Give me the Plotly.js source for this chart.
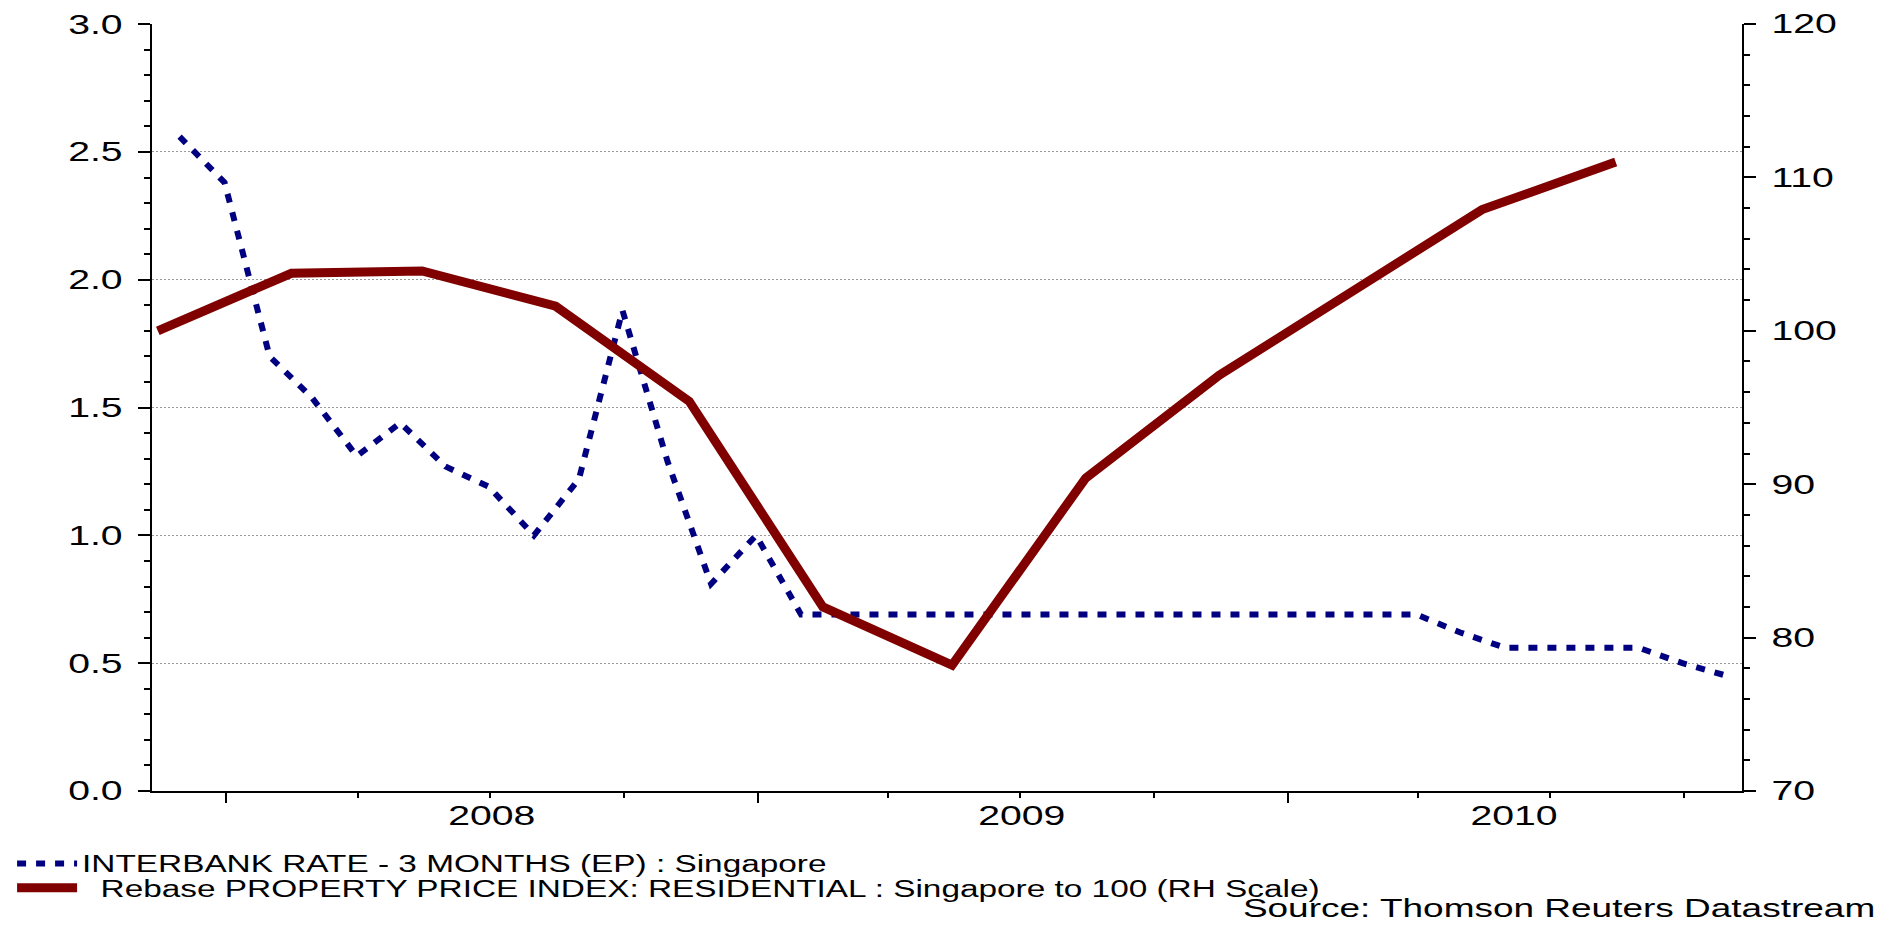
<!DOCTYPE html>
<html>
<head>
<meta charset="utf-8">
<script src="https://cdn.plot.ly/plotly-3.0.1.min.js"></script>
<style>html,body{margin:0;padding:0;background:#fff;}</style>
</head>
<body>
<div id="chart" style="width:1900px;height:925px;"></div>
<script>
// ---- Data ----
const ibDates = [
  '2007-11-30','2007-12-31',
  '2008-01-31','2008-02-29','2008-03-31','2008-04-30','2008-05-31','2008-06-30',
  '2008-07-31','2008-08-31','2008-09-30','2008-10-31','2008-11-30','2008-12-31',
  '2009-01-31','2009-02-28','2009-03-31','2009-04-30','2009-05-31','2009-06-30',
  '2009-07-31','2009-08-31','2009-09-30','2009-10-31','2009-11-30','2009-12-31',
  '2010-01-31','2010-02-28','2010-03-31','2010-04-30','2010-05-31','2010-06-30',
  '2010-07-31','2010-08-31','2010-09-30','2010-10-31'
];
const ibRate = [
  2.56, 2.38,
  1.70, 1.54, 1.31, 1.44, 1.27, 1.19,
  1.00, 1.22, 1.88, 1.29, 0.81, 1.00,
  0.69, 0.69, 0.69, 0.69, 0.69, 0.69,
  0.69, 0.69, 0.69, 0.69, 0.69, 0.69,
  0.69, 0.69, 0.69, 0.62, 0.56, 0.56,
  0.56, 0.56, 0.50, 0.45
];
const propDates = [
  '2007-11-15','2008-02-15','2008-05-15','2008-08-15','2008-11-15','2009-02-15',
  '2009-05-15','2009-08-15','2009-11-15','2010-02-15','2010-05-15','2010-08-15'
];
const propIndex = [100.0, 103.75, 103.9, 101.6, 95.4, 82.0, 78.2, 90.4, 97.1, 102.6, 107.9, 111.0];

const yearLabels = ['2008', '2009', '2010'];
const ibName = 'INTERBANK RATE - 3 MONTHS (EP) : Singapore';
const propName = '\u00a0\u00a0Rebase PROPERTY PRICE INDEX: RESIDENTIAL : Singapore to 100 (RH Scale)';
const sourceText = 'Source: Thomson Reuters Datastream';
const xRange = ['2007-11-11', '2010-11-10'];

// ---- Styles ----
const FONT = 'Liberation Sans, Arial, sans-serif';
const STRETCH = 1.45;

// each year label sits in the middle of the visible part of its year
function yearMid(y) {
  const s = Math.max(Date.parse(y + '-01-01'), Date.parse(xRange[0]));
  const e = Math.min(Date.parse((+y + 1) + '-01-01'), Date.parse(xRange[1]));
  return new Date((s + e) / 2).toISOString().slice(0, 10);
}
const yearLabelPos = yearLabels.map(yearMid);

const traces = [
  {
    x: propDates, y: propIndex, name: propName, yaxis: 'y2', legend: 'legend2',
    type: 'scatter', mode: 'lines',
    line: {color: '#800000', width: 9}
  },
  {
    x: ibDates, y: ibRate, name: ibName, yaxis: 'y', legend: 'legend',
    type: 'scatter', mode: 'lines',
    line: {color: '#000080', width: 6, dash: '9px,10px'}
  },
  {
    // carrier for the year-label axis only (draws nothing)
    x: xRange, y: [null, null], xaxis: 'x2', yaxis: 'y',
    type: 'scatter', mode: 'lines', showlegend: false, hoverinfo: 'skip'
  }
];

function legendDef(y) {
  return {
    x: -0.088, y: y, xanchor: 'left', yanchor: 'top',
    orientation: 'v', bgcolor: 'rgba(0,0,0,0)', borderwidth: 0,
    font: {family: FONT, size: 23, color: '#000000'},
    itemwidth: 60
  };
}

const layout = {
  width: 1900, height: 925,
  paper_bgcolor: '#ffffff', plot_bgcolor: '#ffffff',
  margin: {l: 148, r: 158, t: 24, b: 134, pad: 0},
  font: {family: FONT, color: '#000000', size: 27},
  showlegend: true,
  legend: legendDef(-0.0665),
  legend2: legendDef(-0.0982),
  xaxis: {
    type: 'date', range: xRange,
    showline: true, linecolor: '#000000', linewidth: 2,
    ticks: 'outside', ticklen: 10, tickwidth: 2, tickcolor: '#000000',
    dtick: 'M12', tick0: '2008-01-01', showticklabels: false,
    minor: {dtick: 'M3', tick0: '2008-01-01', ticks: 'outside', ticklen: 5, tickwidth: 2, tickcolor: '#000000', showgrid: false},
    showgrid: false, zeroline: false
  },
  xaxis2: {
    type: 'date', range: xRange, overlaying: 'x', anchor: 'y', side: 'bottom',
    tickmode: 'array', tickvals: yearLabelPos, ticktext: yearLabels,
    ticks: '', ticklabelstandoff: 6,
    tickfont: {family: FONT, size: 27, color: '#000000'},
    showline: false, showgrid: false, zeroline: false
  },
  yaxis: {
    range: [0, 3.0005], dtick: 0.5, tick0: 0, tickformat: '.1f',
    showline: true, linecolor: '#000000', linewidth: 2,
    ticks: 'outside', ticklen: 12, tickwidth: 2, tickcolor: '#000000',
    tickfont: {family: FONT, size: 27, color: '#000000'},
    ticklabelstandoff: 10,
    minor: {dtick: 0.1, ticks: 'outside', ticklen: 6, tickwidth: 2, tickcolor: '#000000', showgrid: false},
    showgrid: true, gridcolor: '#9a9a9a', gridwidth: 1, griddash: '2px,2px',
    zeroline: false
  },
  yaxis2: {
    range: [70, 120], dtick: 10, tick0: 70,
    overlaying: 'y', side: 'right', anchor: 'x',
    showline: true, linecolor: '#000000', linewidth: 2,
    ticks: 'outside', ticklen: 12, tickwidth: 2, tickcolor: '#000000',
    tickfont: {family: FONT, size: 27, color: '#000000'},
    ticklabelstandoff: 10,
    minor: {dtick: 2, ticks: 'outside', ticklen: 6, tickwidth: 2, tickcolor: '#000000', showgrid: false},
    showgrid: false, zeroline: false
  },
  annotations: [
    {
      text: sourceText, xref: 'paper', yref: 'paper',
      x: 0.8846, y: -0.1735, xanchor: 'center', yanchor: 'bottom',
      showarrow: false, font: {family: FONT, size: 25.5, color: '#000000'}
    }
  ]
};

const gd = document.getElementById('chart');

function stretchOne(el) {
  if (el.getAttribute('data-stretched') === el.textContent) return;
  el.removeAttribute('textLength');
  const w = el.getComputedTextLength();
  if (w > 0) {
    el.setAttribute('textLength', (w * STRETCH).toFixed(1));
    el.setAttribute('lengthAdjust', 'spacingAndGlyphs');
    el.setAttribute('data-stretched', el.textContent);
  }
}

// widen every text the way the reference picture shows it
function stretchTexts() {
  gd.querySelectorAll('svg text').forEach(function (t) {
    const spans = t.querySelectorAll('tspan');
    if (spans.length) spans.forEach(stretchOne);
    else stretchOne(t);
  });
  gd.querySelectorAll('g[class^="legend"] [clip-path], g.infolayer g[clip-path]').forEach(function (el) {
    if (el.closest('g[class^="legend"]')) el.removeAttribute('clip-path');
  });
}

new MutationObserver(stretchTexts).observe(gd, {childList: true, subtree: true});

Plotly.newPlot(gd, traces, layout, {staticPlot: true, displayModeBar: false}).then(function () {
  stretchTexts();
  gd.on('plotly_afterplot', stretchTexts);
  requestAnimationFrame(stretchTexts);
  setTimeout(stretchTexts, 50);
  setTimeout(stretchTexts, 250);
});
</script>
</body>
</html>
